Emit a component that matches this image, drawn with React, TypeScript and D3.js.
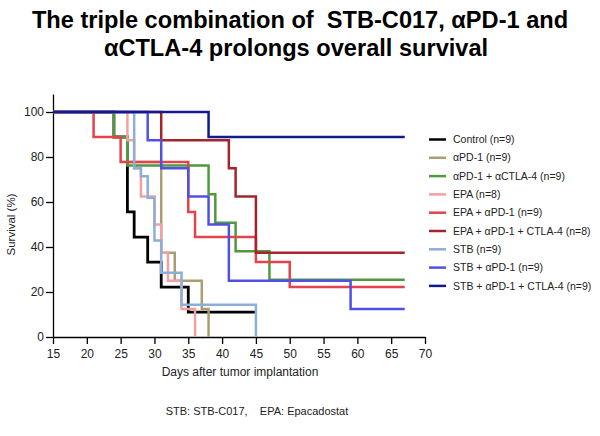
import React, { useEffect, useRef } from 'react';
import * as d3 from 'd3';

// Kaplan-Meier steps: [day of event], [survival % after it]
const controlDays = [15, 24, 26, 27, 29, 31, 35, 45];
const controlSurv = [100, 88.9, 55.6, 44.4, 33.3, 22.2, 11.1, 11.1];

const pd1Days = [15, 24, 26, 31, 33, 37, 38];
const pd1Surv = [100, 88.9, 77.8, 37.5, 25, 12.5, 0];

const pd1ctlaDays = [15, 24, 26, 38, 39, 42, 47, 67];
const pd1ctlaSurv = [100, 88.9, 76.2, 63.5, 50.8, 38.1, 25.4, 25.4];

const epaDays = [15, 26, 27, 28, 30, 31, 32, 34, 36];
const epaSurv = [100, 87.5, 75, 62.5, 50, 37.5, 25, 12.5, 0];

const epaPd1Days = [15, 21, 25, 35, 36, 45, 50, 67];
const epaPd1Surv = [100, 88.9, 77.8, 55.6, 44.4, 33.3, 22.2, 22.2];

const epaTripleDays = [15, 31, 41, 42, 45, 67];
const epaTripleSurv = [100, 87.5, 75, 62.5, 37.5, 37.5];

const stbDays = [15, 27, 28, 29, 30, 31, 34, 45];
const stbSurv = [100, 75, 71.4, 61.9, 42.9, 28.6, 14.3, 0];

const stbPd1Days = [15, 29, 31, 35, 38, 41, 59, 67];
const stbPd1Surv = [100, 87.5, 75, 62.5, 50, 25, 12.5, 12.5];

const stbTripleDays = [15, 38, 67];
const stbTripleSurv = [100, 88.9, 88.9];

const groupLabels = [
  'Control (n=9)',
  'αPD-1 (n=9)',
  'αPD-1 + αCTLA-4 (n=9)',
  'EPA (n=8)',
  'EPA + αPD-1 (n=9)',
  'EPA + αPD-1 + CTLA-4 (n=8)',
  'STB (n=9)',
  'STB + αPD-1 (n=9)',
  'STB + αPD-1 + CTLA-4 (n=9)',
];
const groupDays = [controlDays, pd1Days, pd1ctlaDays, epaDays, epaPd1Days, epaTripleDays, stbDays, stbPd1Days, stbTripleDays];
const groupSurv = [controlSurv, pd1Surv, pd1ctlaSurv, epaSurv, epaPd1Surv, epaTripleSurv, stbSurv, stbPd1Surv, stbTripleSurv];
const groupColors = ['#000000', '#a89e72', '#4f9a3e', '#f3a0a2', '#e4434b', '#a1252b', '#8daed9', '#5050e4', '#111a8e'];

const xTicks = [15, 20, 25, 30, 35, 40, 45, 50, 55, 60, 65, 70];
const yTicks = [0, 20, 40, 60, 80, 100];

const FONT = '"Liberation Sans", Arial, sans-serif';

const App: React.FC = () => {
  const ref = useRef<SVGSVGElement>(null);

  useEffect(() => {
    if (!ref.current) return;
    const svg = d3.select(ref.current);
    svg.selectAll('*').remove();

    // plot box
    const left = 53;
    const right = 425;
    const bottom = 337;

    const x = d3.scaleLinear().domain([15, 70]).range([left, right]);
    const y = d3.scaleLinear().domain([0, 108]).range([bottom, 94]);

    // title
    const title = svg.append('text')
      .attr('x', 300)
      .attr('text-anchor', 'middle')
      .style('font-family', FONT)
      .style('font-weight', 'bold')
      .style('font-size', '23.6px')
      .style('white-space', 'pre');
    title.append('tspan').attr('x', 300).attr('y', 28).text('The triple combination of  STB-C017, αPD-1 and');
    title.append('tspan').attr('x', 296).attr('y', 56).text('αCTLA-4 prolongs overall survival');

    // x axis
    const xAxis = svg.append('g')
      .attr('transform', `translate(0,${bottom})`)
      .call(d3.axisBottom(x).tickValues(xTicks).tickSize(7).tickSizeOuter(0).tickFormat(d3.format('d')));
    xAxis.select('.domain').attr('stroke-width', 1.3);
    xAxis.selectAll('.tick line').attr('stroke-width', 1.3);
    xAxis.selectAll('text')
      .attr('dy', '0.95em')
      .style('font-family', FONT)
      .style('font-size', '12px')
      .attr('fill', '#222');

    // y axis
    const yAxis = svg.append('g')
      .attr('transform', `translate(${left},0)`)
      .call(d3.axisLeft(y).tickValues(yTicks).tickSize(7).tickSizeOuter(0));
    yAxis.select('.domain').attr('stroke-width', 1.3);
    yAxis.selectAll('.tick line').attr('stroke-width', 1.3);
    yAxis.selectAll('text')
      .attr('x', -9)
      .style('font-family', FONT)
      .style('font-size', '12px')
      .attr('fill', '#222');

    // axis titles
    svg.append('text')
      .attr('x', 240)
      .attr('y', 376)
      .attr('text-anchor', 'middle')
      .style('font-family', FONT)
      .style('font-size', '12px')
      .attr('fill', '#222')
      .text('Days after tumor implantation');

    svg.append('text')
      .attr('transform', `translate(15,${y(50)}) rotate(-90)`)
      .attr('text-anchor', 'middle')
      .style('font-family', FONT)
      .style('font-size', '11.5px')
      .attr('fill', '#222')
      .text('Survival (%)');

    // survival curves, drawn in legend order so the later ones sit on top
    const line = d3.line<[number, number]>()
      .x(d => x(d[0]))
      .y(d => y(d[1]))
      .curve(d3.curveStepAfter);

    groupDays.forEach((days, i) => {
      const pts = days.map((d, j) => [d, groupSurv[i][j]] as [number, number]);
      svg.append('path')
        .attr('d', line(pts)!)
        .attr('fill', 'none')
        .attr('stroke', groupColors[i])
        .attr('stroke-width', i === 0 ? 2.8 : 2.5);
    });

    // legend
    const legend = svg.append('g').attr('transform', 'translate(429,139.5)');
    groupLabels.forEach((label, i) => {
      const row = legend.append('g').attr('transform', `translate(0,${i * 18.3})`);
      row.append('line')
        .attr('x1', 0)
        .attr('x2', 17)
        .attr('stroke', groupColors[i])
        .attr('stroke-width', 2.5);
      row.append('text')
        .attr('x', 24)
        .attr('dy', '0.35em')
        .style('font-family', FONT)
        .style('font-size', '10.5px')
        .attr('fill', '#222')
        .text(label);
    });

    // footnote
    svg.append('text')
      .attr('x', 257)
      .attr('y', 415)
      .attr('text-anchor', 'middle')
      .style('font-family', FONT)
      .style('font-size', '11px')
      .style('white-space', 'pre')
      .attr('fill', '#222')
      .text('STB: STB-C017,    EPA: Epacadostat');
  }, []);

  return (
    <svg
      ref={ref}
      width={600}
      height={436}
      style={{ position: 'absolute', left: 0, top: 0, background: '#fff' }}
    />
  );
};

export default App;
